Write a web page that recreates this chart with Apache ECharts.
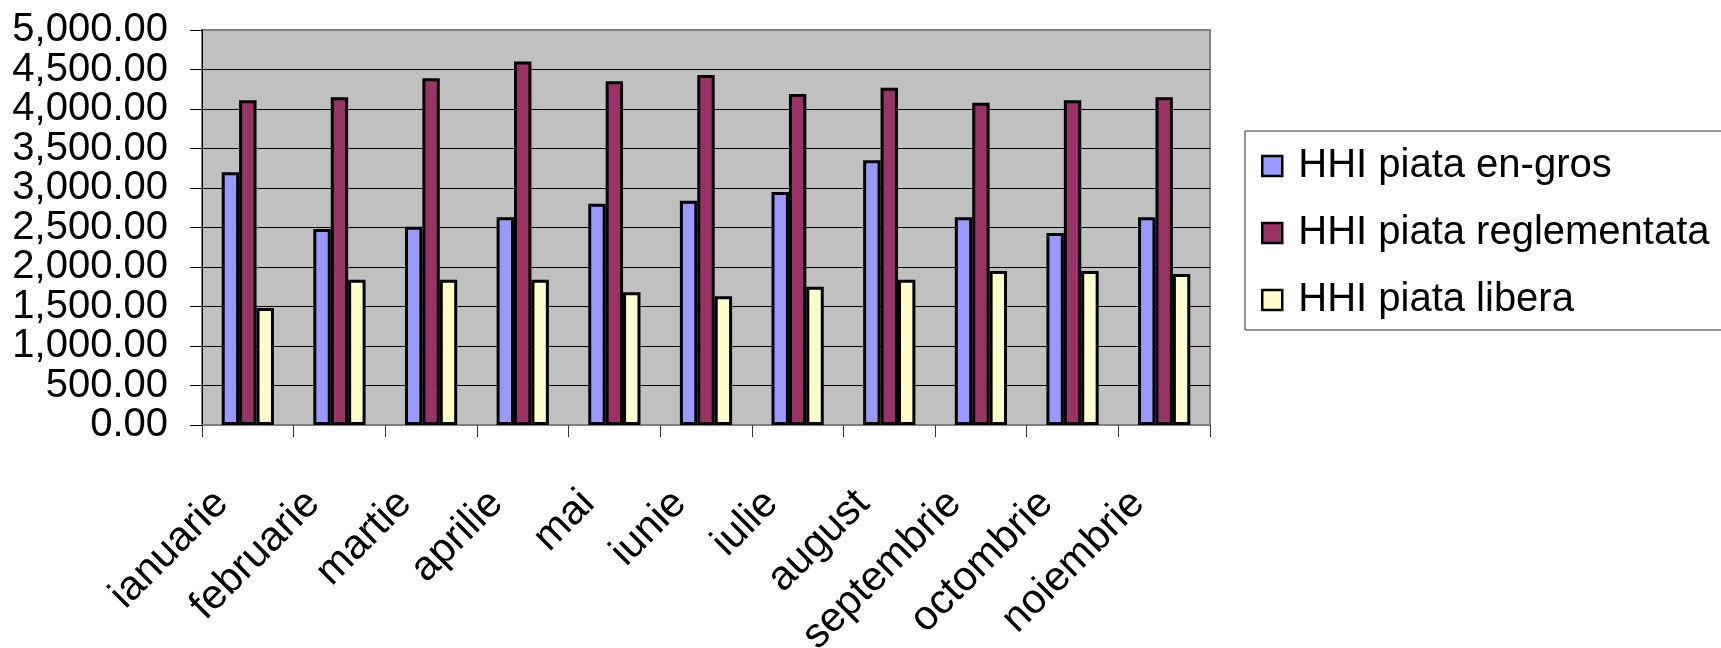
<!DOCTYPE html>
<html>
<head>
<meta charset="utf-8">
<script src="https://cdn.jsdelivr.net/npm/echarts@6/dist/echarts.min.js"></script>
<style>
html,body{margin:0;padding:0;background:#fff;}
#chart{width:1721px;height:648px;}
</style>
</head>
<body>
<div id="chart"></div>
<script>
const categories = ['ianuarie','februarie','martie','aprilie','mai','iunie','iulie','august','septembrie','octombrie','noiembrie'];
const seriesNames = ['HHI piata en-gros','HHI piata reglementata','HHI piata libera'];
const enGros = [3200, 2480, 2510, 2630, 2800, 2840, 2950, 3350, 2630, 2430, 2630];
const reglementata = [4110, 4150, 4390, 4600, 4350, 4430, 4190, 4270, 4080, 4110, 4150];
const libera = [1480, 1840, 1840, 1840, 1680, 1630, 1750, 1840, 1950, 1950, 1910];
const colors = ['#9999FF', '#993366', '#FFFFCC'];
const yMin = 0, yMax = 5000, yStep = 500;

const FONT = '"Liberation Sans", Arial, sans-serif';
const fmt = v => v.toLocaleString('en-US', { minimumFractionDigits: 2, maximumFractionDigits: 2 });
const chart = echarts.init(document.getElementById('chart'));
const mk = (name, data, color) => ({
  name, type: 'bar', data, yAxisIndex: 0,
  barGap: '0%', barCategoryGap: '43%',
  itemStyle: { color, borderColor: '#000', borderWidth: 3 },
  emphasis: { disabled: true }
});
const yLabel = { fontSize: 40, color: '#000', fontFamily: FONT, margin: 34 };
chart.setOption({
  animation: false,
  textStyle: { fontFamily: FONT },
  grid: {
    left: 202, top: 30, width: 1008, height: 395,
    outerBoundsMode: 'none', containLabel: false,
    show: true, backgroundColor: '#C0C0C0', borderColor: '#808080', borderWidth: 2
  },
  legend: {
    orient: 'vertical', left: 1245, top: 131,
    padding: [15, 20, 10, 16],
    itemGap: 27, itemWidth: 20, itemHeight: 20,
    borderColor: '#333', borderWidth: 1,
    icon: 'rect',
    itemStyle: { borderColor: '#000', borderWidth: 2.5 },
    textStyle: { fontSize: 40, color: '#000', fontFamily: FONT, padding: [0, 0, 0, 11] },
    data: seriesNames
  },
  xAxis: {
    type: 'category', data: categories,
    axisLine: { lineStyle: { color: '#808080', width: 2 } },
    axisTick: { show: true, length: 12, lineStyle: { color: '#333', width: 1 } },
    axisLabel: { rotate: 45, fontSize: 41.5, color: '#000', fontFamily: FONT, margin: 46, padding: [0, 37, 0, 0], interval: 0 }
  },
  yAxis: [
    {
      type: 'value', position: 'left', min: yMin, max: yMax, interval: yStep,
      axisLine: { show: true, lineStyle: { color: '#000', width: 1 } },
      axisTick: { show: true, length: 12, lineStyle: { color: '#000', width: 1 } },
      axisLabel: Object.assign({}, yLabel, {
        showMinLabel: true, showMaxLabel: true,
        formatter: v => (v === yMin || v === yMax) ? fmt(v) : ''
      }),
      splitLine: { show: true, showMaxLine: false, lineStyle: { color: '#000', width: 1 } }
    },
    {
      type: 'value', position: 'left', offset: 0, min: yMin, max: yMax, interval: yStep,
      axisLine: { show: false }, axisTick: { show: false }, splitLine: { show: false },
      axisLabel: Object.assign({}, yLabel, {
        showMinLabel: false, showMaxLabel: false,
        formatter: v => fmt(v)
      })
    }
  ],
  series: [
    mk(seriesNames[0], enGros, colors[0]),
    mk(seriesNames[1], reglementata, colors[1]),
    mk(seriesNames[2], libera, colors[2])
  ]
});
</script>
</body>
</html>
